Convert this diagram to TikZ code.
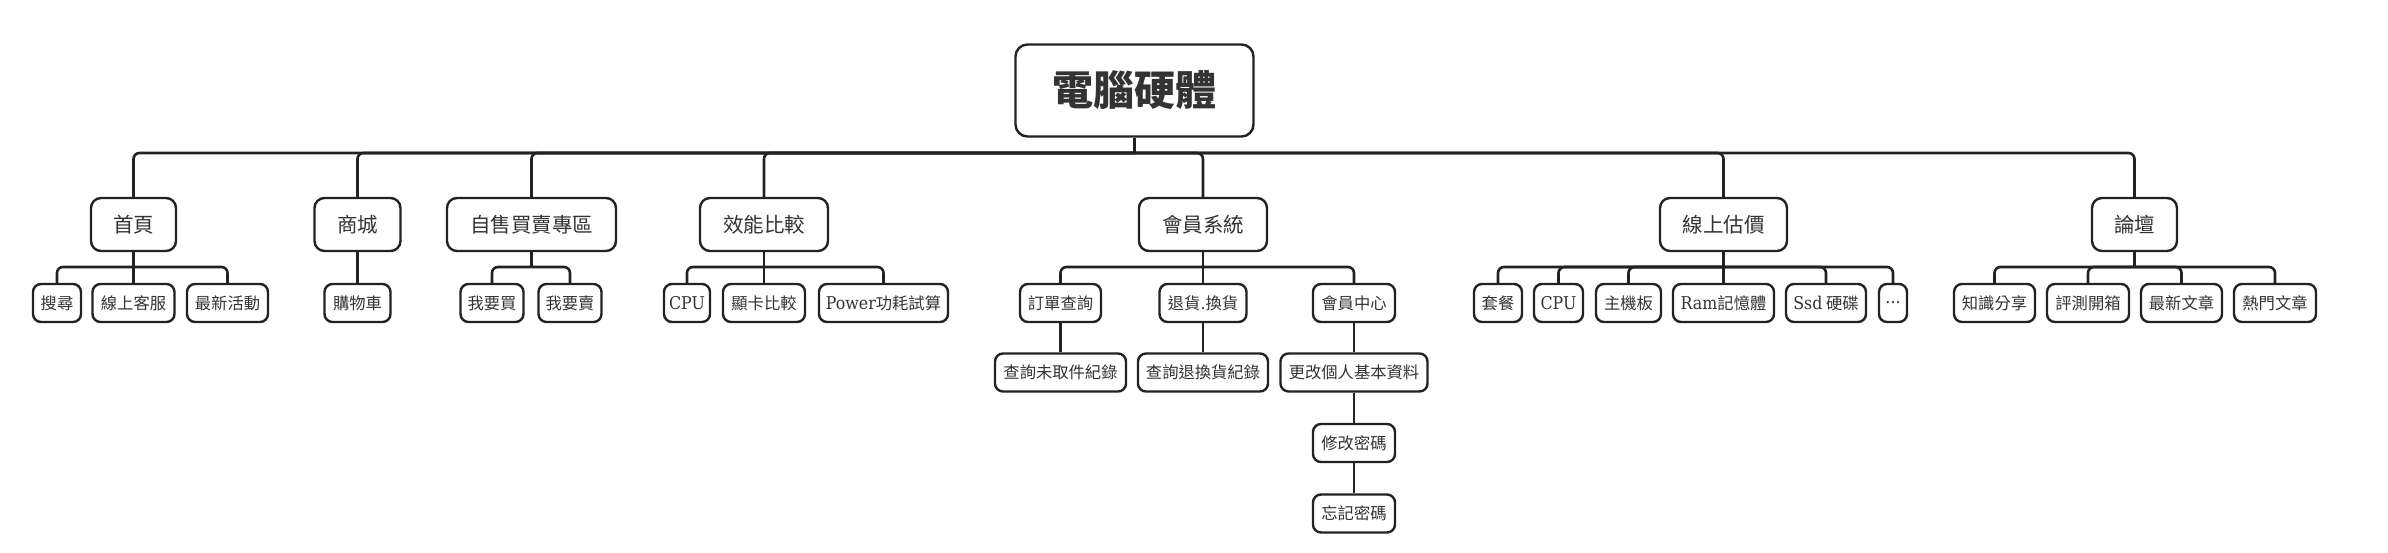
\documentclass[tikz,border=0pt]{standalone}
\usepackage{fontspec}
\setmainfont{Noto Sans CJK TC}
\newfontfamily\latf[Scale=1.08]{DejaVu Serif Condensed}
\definecolor{linec}{HTML}{222222}
\definecolor{textc}{HTML}{333333}
\tikzset{
  box/.style={draw=linec, line width=2.4pt, fill=white, inner sep=0pt, align=center, text=textc},
  rootbox/.style={box, minimum width=238pt, minimum height=92pt, rounded corners=12pt, font=\fontsize{41}{48}\selectfont\bfseries},
  lvone/.style={box, minimum height=53pt, rounded corners=10pt, font=\fontsize{20.5}{24}\selectfont},
  lvtwo/.style={box, minimum height=38pt, rounded corners=8pt, font=\fontsize{16.3}{20}\selectfont},
  conn/.style={draw=linec, line width=2.6pt, rounded corners=6pt},
}
\begin{document}
\begin{tikzpicture}[x=1pt,y=-1pt]
\useasboundingbox (0,0) rectangle (2388,552);
% root
\node[rootbox] (root) at (1134.5,90.5) {電腦硬體};
% level 1
\node[lvone, minimum width=85pt]  (home)  at (133.5,224.5) {首頁};
\node[lvone, minimum width=86pt]  (mall)  at (357.5,224.5) {商城};
\node[lvone, minimum width=169pt] (sell)  at (531.5,224.5) {自售買賣專區};
\node[lvone, minimum width=128pt] (perf)  at (764,224.5) {效能比較};
\node[lvone, minimum width=128pt] (mem)   at (1203,224.5) {會員系統};
\node[lvone, minimum width=127pt] (est)   at (1723.5,224.5) {線上估價};
\node[lvone, minimum width=85pt]  (forum) at (2134.5,224.5) {論壇};
% level 2
\node[lvtwo, minimum width=48pt]  (search) at (57,303) {搜尋};
\node[lvtwo, minimum width=82pt]  (cs)     at (133.5,303) {線上客服};
\node[lvtwo, minimum width=81pt]  (event)  at (227.5,303) {最新活動};
\node[lvtwo, minimum width=66pt]  (cart)   at (357.5,303) {購物車};
\node[lvtwo, minimum width=63pt]  (buy)    at (492,303) {我要買};
\node[lvtwo, minimum width=63pt]  (sale)   at (570,303) {我要賣};
\node[lvtwo, minimum width=46pt]  (cpua)   at (687,303) {{\latf CPU}};
\node[lvtwo, minimum width=82pt]  (gpu)    at (764,303) {顯卡比較};
\node[lvtwo, minimum width=129pt] (power)  at (883.5,303) {{\latf Power}功耗試算};
\node[lvtwo, minimum width=81pt]  (order)  at (1060.5,303) {訂單查詢};
\node[lvtwo, minimum width=87pt]  (ret)    at (1203,303) {退貨{\latf .}換貨};
\node[lvtwo, minimum width=82pt]  (center) at (1354,303) {會員中心};
\node[lvtwo, minimum width=48pt]  (combo)  at (1498,303) {套餐};
\node[lvtwo, minimum width=49pt]  (cpub)   at (1558.5,303) {{\latf CPU}};
\node[lvtwo, minimum width=65pt]  (mb)     at (1628.5,303) {主機板};
\node[lvtwo, minimum width=101pt] (ram)    at (1723.5,303) {{\latf Ram}記憶體};
\node[lvtwo, minimum width=80pt]  (ssd)    at (1826,303) {{\latf Ssd} 硬碟};
\node[lvtwo, minimum width=28pt]  (more)   at (1893,303) {{\latf ...}};
\node[lvtwo, minimum width=81pt]  (share)  at (1994.5,303) {知識分享};
\node[lvtwo, minimum width=82pt]  (review) at (2088,303) {評測開箱};
\node[lvtwo, minimum width=81pt]  (newart) at (2181.5,303) {最新文章};
\node[lvtwo, minimum width=82pt]  (hotart) at (2275,303) {熱門文章};
% level 3 and below
\node[lvtwo, minimum width=131pt] (unpick) at (1060.5,372.5) {查詢未取件紀錄};
\node[lvtwo, minimum width=130pt] (retlog) at (1203,372.5) {查詢退換貨紀錄};
\node[lvtwo, minimum width=147pt] (profile) at (1354,372.5) {更改個人基本資料};
\node[lvtwo, minimum width=82pt]  (pwd)    at (1354,443) {修改密碼};
\node[lvtwo, minimum width=82pt]  (forgot) at (1354,513.5) {忘記密碼};
% buses
\coordinate (bus)  at (1134.5,153);
\coordinate (bhome) at (133.5,267);
\coordinate (bsell) at (531.5,267);
\coordinate (bperf) at (764,267);
\coordinate (bmem)  at (1203,267);
\coordinate (best)  at (1723.5,267);
\coordinate (bforum) at (2134.5,267);
% main connectors
\draw[conn] (root.south) -- (bus);
\foreach \n in {home,mall,sell,perf,mem,est,forum}
  \draw[conn] (bus) -| (\n.north);
% 首頁
\draw[conn] (home.south) -- (bhome);
\foreach \n in {search,cs,event} \draw[conn] (bhome) -| (\n.north);
% 商城
\draw[conn] (mall.south) -- (cart.north);
% 自售買賣專區
\draw[conn] (sell.south) -- (bsell);
\foreach \n in {buy,sale} \draw[conn] (bsell) -| (\n.north);
% 效能比較
\draw[conn] (perf.south) -- (bperf);
\foreach \n in {cpua,gpu,power} \draw[conn] (bperf) -| (\n.north);
% 會員系統
\draw[conn] (mem.south) -- (bmem);
\foreach \n in {order,ret,center} \draw[conn] (bmem) -| (\n.north);
\draw[conn] (order.south) -- (unpick.north);
\draw[conn] (ret.south) -- (retlog.north);
\draw[conn] (center.south) -- (profile.north);
\draw[conn] (profile.south) -- (pwd.north);
\draw[conn] (pwd.south) -- (forgot.north);
% 線上估價
\draw[conn] (est.south) -- (best);
\foreach \n in {combo,cpub,mb,ram,ssd,more} \draw[conn] (best) -| (\n.north);
% 論壇
\draw[conn] (forum.south) -- (bforum);
\foreach \n in {share,review,newart,hotart} \draw[conn] (bforum) -| (\n.north);
\end{tikzpicture}
\end{document}
